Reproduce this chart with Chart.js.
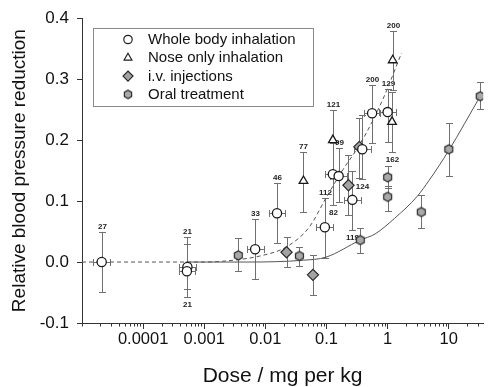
<!DOCTYPE html>
<html>
<head>
<meta charset="utf-8">
<script src="https://cdn.jsdelivr.net/npm/chart.js@4.4.1/dist/chart.umd.min.js"></script>
<style>
  html, body { margin: 0; padding: 0; background: #fff; }
</style>
</head>
<body>
<canvas id="chart" width="490" height="387"></canvas>
<script>
// whole body inhalation (open circles)
const wbX   = [2.1e-5, 5.3e-4, 5.2e-4, 0.0068, 0.0155, 0.094, 0.127, 0.158, 0.265, 0.385, 0.557, 1.0];
const wbY   = [0.000, -0.008, -0.015, 0.021, 0.080, 0.057, 0.144, 0.141, 0.102, 0.185, 0.244, 0.246];
const wbLo  = [-0.049, -0.045, -0.057, -0.028, 0.031, 0.007, 0.093, 0.098, 0.052, 0.136, 0.195, 0.197];
const wbHi  = [0.049, 0.041, 0.030, 0.070, 0.130, 0.105, 0.195, 0.187, 0.149, 0.241, 0.290, 0.284];
const wbXLo = [1.53e-5, 3.87e-4, 3.8e-4, 0.00496, 0.0113, 0.0686, 0.093, 0.115, 0.193, 0.281, 0.407, 0.73];
const wbXHi = [2.88e-5, 7.26e-4, 7.1e-4, 0.00932, 0.0212, 0.129, 0.174, 0.216, 0.363, 0.527, 0.763, 1.37];
const wbN   = ['27', '21', '21', '33', '46', '112', '82', '99', '119', '124', '200', '129'];
const wbPos = ['top', 'top', 'bottom', 'top', 'top', 'top', 'bottom', 'top', 'bottom', 'bottom', 'top', 'top'];

// nose only inhalation (open triangles)
const noX   = [0.042, 0.127, 1.21, 1.18];
const noY   = [0.133, 0.200, 0.331, 0.230];
const noLo  = [0.082, 0.150, 0.282, 0.181];
const noHi  = [0.180, 0.249, 0.379, 0.279];
const noN   = ['77', '121', '200', '162'];
const noPos = ['top', 'top', 'top', 'bottom'];

// i.v. injections (grey diamonds)
const ivX  = [0.0222, 0.060, 0.229, 0.344];
const ivY  = [0.016, -0.021, 0.126, 0.189];
const ivLo = [-0.008, -0.054, 0.077, 0.138];
const ivHi = [0.041, 0.011, 0.175, 0.237];

// oral treatment (grey hexagons)
const orX  = [0.0036, 0.036, 0.357, 1.0, 1.0, 3.55, 10, 32.7];
const orY  = [0.011, 0.010, 0.036, 0.139, 0.107, 0.082, 0.185, 0.272];
const orLo = [-0.015, -0.007, 0.015, 0.122, 0.084, 0.056, 0.141, 0.251];
const orHi = [0.039, 0.025, 0.056, 0.157, 0.125, 0.110, 0.228, 0.295];

// fitted curves
const inhFitX = [1e-5, 0.001, 0.0024, 0.0082, 0.0222, 0.052, 0.098, 0.184, 0.332, 0.578, 0.97, 1.31, 1.69];
const inhFitY = [0, 0, 0.002, 0.010, 0.025, 0.057, 0.105, 0.151, 0.189, 0.233, 0.282, 0.315, 0.343];
const oralFitX = [5e-4, 0.005, 0.042, 0.098, 0.357, 0.622, 1.31, 3.06, 4.77, 10, 32.7];
const oralFitY = [0, 0, 0.003, 0.008, 0.036, 0.046, 0.072, 0.108, 0.134, 0.183, 0.272];

const xTickValues = [0.0001, 0.001, 0.01, 0.1, 1, 10];
const xTickLabels = ['0.0001', '0.001', '0.01', '0.1', '1', '10'];

const FONT = '"Liberation Sans", Arial, sans-serif';

function pts(xs, ys) {
  return xs.map((x, i) => ({ x: x, y: ys[i] }));
}

// hexagon marker as an image
function hexagon(r, fill) {
  const s = Math.ceil(r * 2 + 3);
  const cv = document.createElement('canvas');
  cv.width = s; cv.height = s;
  const c = cv.getContext('2d');
  c.beginPath();
  for (let k = 0; k < 6; k++) {
    const a = Math.PI / 2 + k * Math.PI / 3;
    const px = s / 2 + r * Math.cos(a), py = s / 2 + r * Math.sin(a);
    k === 0 ? c.moveTo(px, py) : c.lineTo(px, py);
  }
  c.closePath();
  c.fillStyle = fill;
  c.fill();
  c.strokeStyle = '#2a2a2a';
  c.lineWidth = 1.2;
  c.stroke();
  return cv;
}
const hexBig = hexagon(4.6, '#a9a9a9');
const hexSmall = hexagon(4.2, '#a9a9a9');

const groups = [
  { x: wbX, y: wbY, lo: wbLo, hi: wbHi, xlo: wbXLo, xhi: wbXHi, n: wbN, pos: wbPos },
  { x: noX, y: noY, lo: noLo, hi: noHi, n: noN, pos: noPos },
  { x: ivX, y: ivY, lo: ivLo, hi: ivHi },
  { x: orX, y: orY, lo: orLo, hi: orHi }
];

const errorBars = {
  id: 'errorBars',
  beforeDatasetsDraw(chart) {
    const ctx = chart.ctx, xs = chart.scales.x, ys = chart.scales.y;
    const cap = 3.5;
    ctx.save();
    ctx.strokeStyle = '#707070';
    ctx.lineWidth = 1;
    ctx.font = 'bold 8px ' + FONT;
    ctx.fillStyle = '#222';
    ctx.textAlign = 'center';
    ctx.textBaseline = 'middle';
    groups.forEach(g => {
      g.x.forEach((xv, i) => {
        const px = Math.round(xs.getPixelForValue(xv)) + 0.5;
        const py = Math.round(ys.getPixelForValue(g.y[i])) + 0.5;
        const top = Math.round(ys.getPixelForValue(g.hi[i])) + 0.5;
        const bot = Math.round(ys.getPixelForValue(g.lo[i])) + 0.5;
        ctx.beginPath();
        ctx.moveTo(px, top); ctx.lineTo(px, bot);
        ctx.moveTo(px - cap, top); ctx.lineTo(px + cap, top);
        ctx.moveTo(px - cap, bot); ctx.lineTo(px + cap, bot);
        if (g.xlo) {
          const l = Math.round(xs.getPixelForValue(g.xlo[i])) + 0.5;
          const r = Math.round(xs.getPixelForValue(g.xhi[i])) + 0.5;
          ctx.moveTo(l, py); ctx.lineTo(r, py);
          ctx.moveTo(l, py - cap); ctx.lineTo(l, py + cap);
          ctx.moveTo(r, py - cap); ctx.lineTo(r, py + cap);
        }
        ctx.stroke();
        if (g.n) {
          const ly = g.pos[i] === 'top' ? top - 6 : bot + 7;
          ctx.fillText(g.n[i], px, ly);
        }
      });
    });
    ctx.restore();
  }
};

const minorTicks = {
  id: 'minorTicks',
  afterDraw(chart) {
    const ctx = chart.ctx, xs = chart.scales.x, bottom = chart.chartArea.bottom;
    ctx.save();
    ctx.strokeStyle = '#333';
    ctx.lineWidth = 1;
    ctx.beginPath();
    xs.ticks.forEach(t => {
      if (xTickValues.includes(t.value)) return;
      const px = Math.round(xs.getPixelForValue(t.value)) + 0.5;
      ctx.moveTo(px, bottom);
      ctx.lineTo(px, bottom + 3.5);
    });
    ctx.stroke();
    ctx.restore();
  }
};

const boxLegend = {
  id: 'boxLegend',
  afterDraw(chart) {
    const ctx = chart.ctx;
    const styles = [
      { pointStyle: 'circle', radius: 4.2, fill: '#fff' },
      { pointStyle: 'triangle', radius: 4.5, fill: '#fff' },
      { pointStyle: 'rectRot', radius: 5, fill: '#a3a3a3' },
      { pointStyle: hexSmall, radius: 4, fill: '#a9a9a9' }
    ];
    ctx.save();
    ctx.fillStyle = '#fff';
    ctx.fillRect(93.5, 28.5, 220, 78);
    ctx.strokeStyle = '#8a8a8a';
    ctx.lineWidth = 1;
    ctx.strokeRect(93.5, 28.5, 220, 78);
    for (let i = 0; i < 4; i++) {
      const y = 39.5 + i * 18.3;
      ctx.fillStyle = styles[i].fill;
      ctx.strokeStyle = '#222';
      ctx.lineWidth = 1.2;
      Chart.helpers.drawPoint(ctx, { pointStyle: styles[i].pointStyle, radius: styles[i].radius, rotation: 0, borderWidth: 1.2 }, 128, y);
      ctx.fillStyle = '#111';
      ctx.font = '15px ' + FONT;
      ctx.textAlign = 'left';
      ctx.textBaseline = 'middle';
      ctx.fillText(chart.data.datasets[i].label, 148, y + 0.5);
    }
    ctx.restore();
  }
};

new Chart(document.getElementById('chart'), {
  type: 'scatter',
  data: {
    datasets: [
      { label: 'Whole body inhalation', data: pts(wbX, wbY), pointStyle: 'circle', pointRadius: 4.6,
        backgroundColor: '#fff', borderColor: '#1a1a1a', borderWidth: 1.3, order: 1 },
      { label: 'Nose only inhalation', data: pts(noX, noY), pointStyle: 'triangle', pointRadius: 5,
        backgroundColor: '#fff', borderColor: '#1a1a1a', borderWidth: 1.3, order: 1 },
      { label: 'i.v. injections', data: pts(ivX, ivY), pointStyle: 'rectRot', pointRadius: 5.6,
        backgroundColor: '#a3a3a3', borderColor: '#2a2a2a', borderWidth: 1.2, order: 1 },
      { label: 'Oral treatment', data: pts(orX, orY), pointStyle: hexBig, pointRadius: 5,
        backgroundColor: '#a9a9a9', borderColor: '#2a2a2a', order: 1 },
      { label: 'inhalation fit', data: pts(inhFitX, inhFitY), showLine: true, pointRadius: 0,
        borderColor: '#555', borderWidth: 1, borderDash: [4, 3], cubicInterpolationMode: 'monotone', order: 5 },
      { label: 'oral fit', data: pts(oralFitX, oralFitY), showLine: true, pointRadius: 0,
        borderColor: '#555', borderWidth: 1, cubicInterpolationMode: 'monotone', order: 5 }
    ]
  },
  options: {
    responsive: false,
    animation: false,
    devicePixelRatio: 1,
    layout: { padding: { top: 18, left: 0, right: 0, bottom: 0 } },
    plugins: {
      legend: { display: false },
      tooltip: { enabled: false }
    },
    scales: {
      x: {
        type: 'logarithmic',
        min: 1e-5,
        max: 36.6,
        afterBuildTicks: axis => {
          const t = [];
          for (let e = -5; e <= 1; e++) {
            for (let m = 1; m <= 9; m++) {
              const v = Number((m * Math.pow(10, e)).toPrecision(2));
              if (v <= 36.6) t.push({ value: v });
            }
          }
          axis.ticks = t;
        },
        afterFit: s => { s.height = 64; },
        border: { color: '#333', width: 1 },
        grid: {
          drawOnChartArea: false,
          tickLength: 6,
          color: c => (c.tick && xTickValues.includes(c.tick.value)) ? '#333' : 'rgba(0,0,0,0)'
        },
        ticks: {
          autoSkip: false,
          maxRotation: 0,
          padding: 1,
          color: '#111',
          font: { family: FONT, size: 16.5 },
          callback: v => {
            const k = xTickValues.indexOf(v);
            return k >= 0 ? xTickLabels[k] : '';
          }
        },
        title: {
          display: true,
          text: 'Dose / mg per kg',
          color: '#111',
          font: { family: FONT, size: 21, lineHeight: 1 },
          padding: { top: 0, bottom: 0 }
        }
      },
      y: {
        min: -0.1,
        max: 0.4,
        afterFit: s => { s.width = 82; },
        border: { color: '#333', width: 1 },
        grid: { drawOnChartArea: false, tickLength: 5, color: '#333' },
        ticks: {
          stepSize: 0.1,
          padding: 8,
          color: '#111',
          font: { family: FONT, size: 17 },
          callback: v => v.toFixed(1)
        },
        title: {
          display: true,
          text: 'Relative blood pressure reduction',
          color: '#111',
          font: { family: FONT, size: 19 },
          padding: { top: 8, bottom: 0 }
        }
      }
    }
  },
  plugins: [errorBars, minorTicks, boxLegend]
});
</script>
</body>
</html>
